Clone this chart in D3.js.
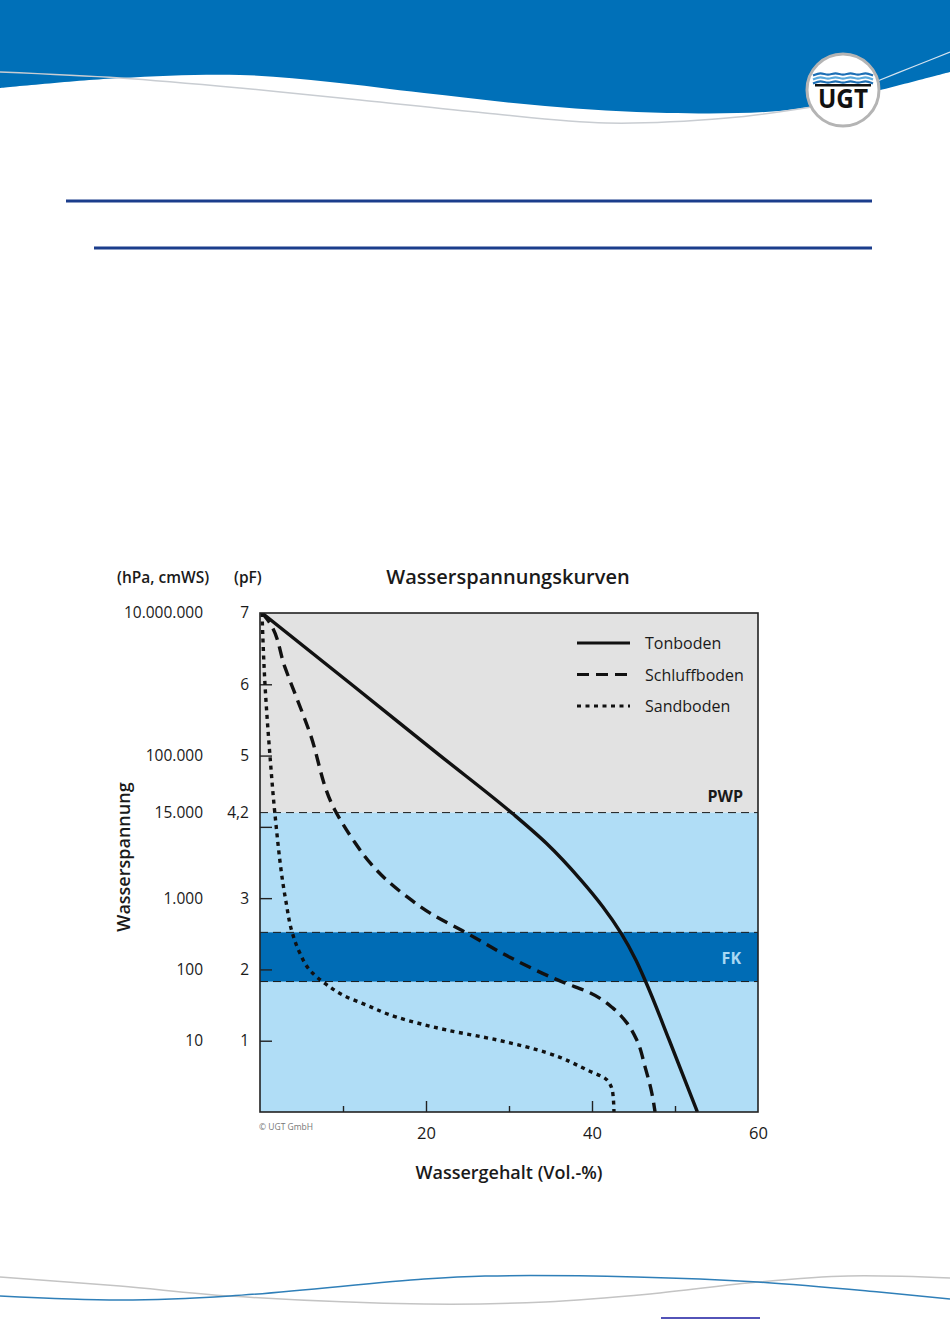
<!DOCTYPE html>
<html><head><meta charset="utf-8">
<script src="https://cdn.jsdelivr.net/npm/d3@7"></script>
<style>
body{margin:0;background:#fff}
svg{display:block}
text{font-family:"Open Sans","Noto Sans",sans-serif}
</style>
</head><body>
<script>
// ---- data ----
const tonWasser    = [0.24, 11.0, 21.7, 30.5, 34.5, 38.7, 41.3, 43.5, 45.3, 46.5, 49.3, 52.7];
const tonPF        = [7.0, 6.0, 5.0, 4.18, 3.77, 3.25, 2.88, 2.51, 2.13, 1.82, 1.01, 0.0];
const schluffWasser= [0.24, 1.0, 3.0, 6.0, 9.0, 11.2, 13.3, 15.3, 17.7, 20.5, 24.9, 30.1, 36.5, 39.8, 42.5, 44.2, 45.4, 46.4, 47.2, 47.6];
const schluffPF    = [7.0, 6.89, 6.24, 5.32, 4.24, 3.82, 3.49, 3.25, 3.02, 2.79, 2.51, 2.17, 1.82, 1.67, 1.46, 1.25, 1.01, 0.63, 0.27, 0.0];
const sandWasser   = [0.24, 0.6, 1.2, 1.8, 3.1, 3.9, 4.8, 6.0, 8.1, 10.5, 12.4, 16.5, 22.5, 28.6, 34.6, 39.4, 41.8, 42.5, 42.65];
const sandPF       = [7.0, 6.0, 5.0, 4.18, 2.97, 2.51, 2.23, 1.99, 1.78, 1.61, 1.52, 1.33, 1.15, 1.01, 0.83, 0.59, 0.45, 0.27, 0.0];
const seriesNames  = ["Tonboden", "Schluffboden", "Sandboden"];
const pwpPF = 4.2;
const fkPF = [1.83, 2.52];
const pfTickValues = [7, 6, 5, 4.2, 3, 2, 1];
const pfTickLabels = ["7", "6", "5", "4,2", "3", "2", "1"];
const hpaTickValues = [7, 5, 4.2, 3, 2, 1];
const hpaTickLabels = ["10.000.000", "100.000", "15.000", "1.000", "100", "10"];
const innerTicksY = [1, 2, 3, 4, 5, 6];
const xMajorTicks = [20, 40];
const xMinorTicks = [10, 30, 50];
const xLabelTicks = [20, 40, 60];

// ---- layout ----
const W = 950, H = 1344;
const svg = d3.select("body").append("svg").attr("width", W).attr("height", H);

// header
const blueTop = "#0070b8";
const headerEdge = [[0,88],[120,78],[240,75],[330,82],[424,93],[545,106],[667,113],[788,110],[860,95],[950,72]];
const edgeLine = d3.line().curve(d3.curveCatmullRom);
svg.append("path")
  .attr("d", "M0,0 L950,0 L" + edgeLine(headerEdge.slice().reverse()).slice(1) + " Z")
  .attr("fill", blueTop);
svg.append("path")
  .attr("d", edgeLine([[0,72],[120,78],[240,88],[360,100],[485,113],[606,123],[727,118],[812,107]]))
  .attr("fill","none").attr("stroke","#c9cdd2").attr("stroke-width",1.5);
svg.append("path")
  .attr("d", edgeLine([[875,82],[915,66],[950,52]]))
  .attr("fill","none").attr("stroke","#d5e3ef").attr("stroke-width",1.2);

// logo
const logo = svg.append("g").attr("transform","translate(843,90)");
logo.append("circle").attr("r",36).attr("fill","#fff").attr("stroke","#b4b4b4").attr("stroke-width",3);
[-16,-12,-8].forEach((dy,i)=>{
  logo.append("path")
    .attr("d", d3.line().curve(d3.curveBasis)(d3.range(0,9).map(k=>[-30+k*7.5, dy + (k%2? -1.6:1.6)])))
    .attr("fill","none").attr("stroke", i==1? "#5aa9dc":"#1d6fb5").attr("stroke-width",2.2);
});
logo.append("rect").attr("x",-28).attr("y",-6).attr("width",56).attr("height",2.5).attr("fill","#111");
logo.append("text").attr("x",0).attr("y",18).attr("text-anchor","middle")
  .attr("font-family","'DejaVu Sans Condensed','DejaVu Sans',sans-serif").attr("font-weight","bold")
  .attr("font-size",27).attr("textLength",50).attr("lengthAdjust","spacingAndGlyphs").attr("fill","#111").text("UGT");

// horizontal rules
svg.append("line").attr("x1",66).attr("x2",872).attr("y1",201).attr("y2",201).attr("stroke","#1b3d8c").attr("stroke-width",3);
svg.append("line").attr("x1",94).attr("x2",872).attr("y1",248).attr("y2",248).attr("stroke","#1b3d8c").attr("stroke-width",3);

// footer
svg.append("path").attr("d", edgeLine([[0,1277],[120,1286],[230,1296],[424,1304],[545,1302],[650,1294],[758,1282],[848,1276],[950,1278]]))
  .attr("fill","none").attr("stroke","#c4c4c4").attr("stroke-width",1.5);
svg.append("path").attr("d", edgeLine([[0,1296],[121,1300],[230,1296],[424,1279],[485,1276],[636,1277],[758,1282],[879,1292],[950,1299]]))
  .attr("fill","none").attr("stroke","#2f7fb8").attr("stroke-width",1.5);
svg.append("line").attr("x1",661).attr("x2",760).attr("y1",1318).attr("y2",1318).attr("stroke","#1a1aa0").attr("stroke-width",1.5);

// ---- chart ----
const pLeft = 260, pRight = 758, pTop = 613, pBottom = 1112;
const x = d3.scaleLinear().domain([0,60]).range([pLeft,pRight]);
const y = d3.scaleLinear().domain([0,7]).range([pBottom,pTop]);

const g = svg.append("g");
// zones
g.append("rect").attr("x",x(0)).attr("y",y(7)).attr("width",x(60)-x(0)).attr("height",y(pwpPF)-y(7)).attr("fill","#e2e2e2");
g.append("rect").attr("x",x(0)).attr("y",y(pwpPF)).attr("width",x(60)-x(0)).attr("height",y(0)-y(pwpPF)).attr("fill","#b0ddf6");
g.append("rect").attr("x",x(0)).attr("y",y(fkPF[1])).attr("width",x(60)-x(0)).attr("height",y(fkPF[0])-y(fkPF[1])).attr("fill","#006cb5");
[pwpPF, fkPF[0], fkPF[1]].forEach(v=>{
  g.append("line").attr("x1",x(0)).attr("x2",x(60)).attr("y1",y(v)).attr("y2",y(v))
    .attr("stroke","#1a1a1a").attr("stroke-width",1).attr("stroke-dasharray","8,5");
});
g.append("text").attr("x",x(60)-15).attr("y",y(pwpPF)-11).attr("text-anchor","end")
  .attr("font-weight","bold").attr("font-size",16).attr("fill","#1a1a1a").text("PWP");
g.append("text").attr("x",x(60)-17).attr("y",(y(fkPF[0])+y(fkPF[1]))/2+7).attr("text-anchor","end")
  .attr("font-weight","bold").attr("font-size",16).attr("fill","#a9d8f3").text("FK");

// axes ticks (inward)
g.append("g").attr("transform",`translate(0,${pBottom})`)
  .call(d3.axisBottom(x).tickValues(xMinorTicks).tickSize(-6).tickFormat(""))
  .call(a=>{a.select(".domain").remove(); a.selectAll("line").attr("stroke","#222").attr("stroke-width",1.4);});
g.append("g").attr("transform",`translate(0,${pBottom})`)
  .call(d3.axisBottom(x).tickValues(xMajorTicks).tickSize(-11).tickFormat(""))
  .call(a=>{a.select(".domain").remove(); a.selectAll("line").attr("stroke","#222").attr("stroke-width",1.4);});
g.append("g").attr("transform",`translate(${pLeft},0)`)
  .call(d3.axisLeft(y).tickValues(innerTicksY).tickSize(-12).tickFormat(""))
  .call(a=>{a.select(".domain").remove(); a.selectAll("line").attr("stroke","#222").attr("stroke-width",1.4);});

// curves
const clip = svg.append("clipPath").attr("id","plotclip");
clip.append("rect").attr("x",pLeft).attr("y",pTop).attr("width",pRight-pLeft).attr("height",pBottom-pTop);
const line = d3.line().x(d=>x(d[0])).y(d=>y(d[1])).curve(d3.curveMonotoneY);
const series = [
  {name:seriesNames[0], pts:d3.zip(tonWasser,tonPF), dash:null},
  {name:seriesNames[1], pts:d3.zip(schluffWasser,schluffPF), dash:"12,7"},
  {name:seriesNames[2], pts:d3.zip(sandWasser,sandPF), dash:"4,4.5"}
];
const cg = g.append("g").attr("clip-path","url(#plotclip)");
series.forEach(s=>{
  cg.append("path").attr("d",line(s.pts)).attr("fill","none").attr("stroke","#111")
    .attr("stroke-width",3.4).attr("stroke-dasharray",s.dash);
});

// border
g.append("rect").attr("x",pLeft).attr("y",pTop).attr("width",pRight-pLeft).attr("height",pBottom-pTop)
  .attr("fill","none").attr("stroke","#222").attr("stroke-width",1.6);

// legend
const lg = g.append("g");
series.forEach((s,i)=>{
  const ly = 643 + i*31.5;
  lg.append("line").attr("x1",577).attr("x2",630).attr("y1",ly).attr("y2",ly)
    .attr("stroke","#111").attr("stroke-width",3.2).attr("stroke-dasharray",s.dash);
  lg.append("text").attr("x",645).attr("y",ly+6).attr("font-size",16).attr("fill","#1a1a1a").text(s.name);
});

// axis labels (text)
g.append("g").attr("transform",`translate(${pLeft},0)`)
  .call(d3.axisLeft(y).tickValues(pfTickValues).tickSize(0).tickPadding(11).tickFormat((d,i)=>pfTickLabels[i]))
  .call(a=>{a.select(".domain").remove(); a.selectAll("text").attr("font-size",15.5).attr("fill","#1a1a1a").attr("font-family","'Open Sans',sans-serif");});
g.append("g").attr("transform",`translate(${pLeft},0)`)
  .call(d3.axisLeft(y).tickValues(hpaTickValues).tickSize(0).tickPadding(57).tickFormat((d,i)=>hpaTickLabels[i]))
  .call(a=>{a.select(".domain").remove(); a.selectAll("text").attr("font-size",15.5).attr("fill","#1a1a1a").attr("font-family","'Open Sans',sans-serif");});
g.append("g").attr("transform",`translate(0,${pBottom})`)
  .call(d3.axisBottom(x).tickValues(xLabelTicks).tickSize(0).tickPadding(15))
  .call(a=>{a.select(".domain").remove(); a.selectAll("text").attr("font-size",16.5).attr("fill","#1a1a1a").attr("font-family","'Open Sans',sans-serif");});

g.append("text").attr("x",259).attr("y",1130).attr("font-size",8.5).attr("fill","#777").text("© UGT GmbH");

// titles
g.append("text").attr("x",508).attr("y",584).attr("text-anchor","middle").attr("font-size",20).attr("font-weight",600).attr("fill","#1a1a1a").text("Wasserspannungskurven");
g.append("text").attr("x",117).attr("y",583).attr("font-size",15.5).attr("font-weight",600).attr("fill","#1a1a1a").text("(hPa, cmWS)");
g.append("text").attr("x",234).attr("y",583).attr("font-size",15.5).attr("font-weight",600).attr("fill","#1a1a1a").text("(pF)");
g.append("text").attr("x",509).attr("y",1179).attr("text-anchor","middle").attr("font-size",18).attr("font-weight",600).attr("fill","#1a1a1a").text("Wassergehalt (Vol.-%)");
g.append("text").attr("transform","translate(130,857) rotate(-90)").attr("text-anchor","middle").attr("font-size",18).attr("font-weight",600).attr("fill","#1a1a1a").text("Wasserspannung");
</script>
</body></html>
